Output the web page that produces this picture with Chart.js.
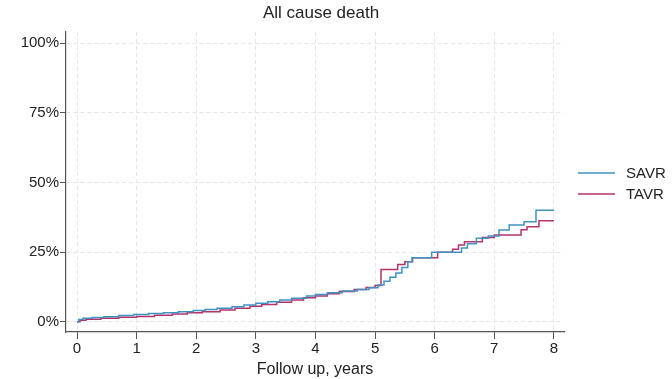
<!DOCTYPE html>
<html>
<head>
<meta charset="utf-8">
<script src="https://cdn.jsdelivr.net/npm/chart.js@4"></script>
<style>
  html, body { margin: 0; padding: 0; background: #fff; }
  #wrap { width: 672px; height: 379px; }
</style>
</head>
<body>
<div id="wrap"><canvas id="chart"></canvas></div>
<script>
// cumulative all cause death (%), step points
const savrTime = [0, 0.03, 0.1, 0.25, 0.45, 0.7, 0.95, 1.2, 1.45, 1.7, 1.95, 2.15, 2.35, 2.6, 2.8, 3.0, 3.2, 3.4, 3.6, 3.85, 4.0, 4.2, 4.45, 4.7, 4.9, 5.05, 5.15, 5.25, 5.35, 5.45, 5.55, 5.62, 5.95, 6.45, 6.55, 6.7, 6.9, 7.08, 7.25, 7.5, 7.7, 8.0];
const savrRisk = [0, 0.8, 1.2, 1.5, 1.8, 2.2, 2.6, 2.9, 3.2, 3.6, 4.0, 4.4, 4.8, 5.4, 6.0, 6.6, 7.2, 7.8, 8.4, 9.2, 9.8, 10.4, 11.0, 11.6, 12.2, 13.2, 14.5, 16.0, 17.5, 19.5, 21.5, 23.0, 24.9, 26.5, 28.0, 30.0, 30.8, 32.9, 34.7, 35.9, 40.0, 40.0];
const tavrTime = [0, 0.05, 0.15, 0.4, 0.7, 1.0, 1.3, 1.6, 1.85, 2.1, 2.4, 2.65, 2.9, 3.1, 3.35, 3.6, 3.8, 4.0, 4.2, 4.4, 4.65, 4.85, 5.0, 5.1, 5.38, 5.5, 5.63, 6.05, 6.3, 6.4, 6.5, 6.8, 7.0, 7.45, 7.55, 7.75, 8.0];
const tavrRisk = [0, 0.5, 0.9, 1.2, 1.6, 1.9, 2.3, 2.8, 3.2, 3.6, 4.2, 4.8, 5.5, 6.2, 7.0, 7.8, 8.6, 9.2, 10.0, 10.8, 11.6, 12.3, 13.0, 18.7, 20.5, 21.5, 23.0, 24.9, 26.0, 27.5, 28.7, 30.2, 31.1, 33.0, 34.1, 36.2, 36.2];
const xTicks = [0, 1, 2, 3, 4, 5, 6, 7, 8];
const yTicks = [0, 25, 50, 75, 100];

const FONT = 'Liberation Sans, Arial, sans-serif';
const SAVR_COLOR = '#3f93c2';
const TAVR_COLOR = '#b5336a';

function toPoints(xs, ys) {
    return xs.map((x, i) => ({ x: x, y: ys[i] }));
}

// title centred over the plot region + legend to the right
const decor = {
    id: 'decor',
    afterDraw(chart) {
        const ctx = chart.ctx;
        const area = chart.chartArea;
        ctx.save();
        ctx.fillStyle = '#222';
        ctx.font = '17px ' + FONT;
        ctx.textAlign = 'center';
        ctx.textBaseline = 'middle';
        ctx.fillText('All cause death', (area.left + area.right) / 2 + 6, 13);

        const items = [['SAVR', SAVR_COLOR, 173], ['TAVR', TAVR_COLOR, 194]];
        ctx.font = '15px ' + FONT;
        ctx.textAlign = 'left';
        items.forEach(([label, color, y]) => {
            ctx.strokeStyle = color;
            ctx.lineWidth = 1.5;
            ctx.beginPath();
            ctx.moveTo(578, y);
            ctx.lineTo(615, y);
            ctx.stroke();
            ctx.fillStyle = '#222';
            ctx.fillText(label, 626, y + 1);
        });
        ctx.restore();
    }
};

new Chart(document.getElementById('chart').getContext('2d'), {
    type: 'line',
    data: {
        datasets: [{
            label: 'SAVR',
            data: toPoints(savrTime, savrRisk),
            borderColor: SAVR_COLOR,
            borderWidth: 1.5,
            stepped: true,
            pointRadius: 0,
            fill: false
        }, {
            label: 'TAVR',
            data: toPoints(tavrTime, tavrRisk),
            borderColor: TAVR_COLOR,
            borderWidth: 1.5,
            stepped: true,
            pointRadius: 0,
            fill: false
        }]
    },
    options: {
        responsive: true,
        maintainAspectRatio: false,
        animation: false,
        layout: { padding: { top: 32, right: 108, left: 0, bottom: 0 } },
        plugins: {
            legend: { display: false },
            title: { display: false },
            tooltip: { enabled: false }
        },
        scales: {
            x: {
                type: 'linear',
                min: -0.185,
                max: 8.17,
                afterBuildTicks: s => { s.ticks = xTicks.map(v => ({ value: v })); },
                afterFit: s => { s.height = 47; },
                ticks: { color: '#222', font: { family: FONT, size: 15 }, padding: 1, maxRotation: 0 },
                grid: { color: '#e6e6e6', tickColor: '#555', tickLength: 7, tickBorderDash: [] },
                border: { color: '#555', width: 1.2, dash: [4, 3] },
                title: { display: true, text: 'Follow up, years', color: '#222', font: { family: FONT, size: 16 }, padding: { top: 0, bottom: 0 } }
            },
            y: {
                min: -3.7,
                max: 104,
                afterBuildTicks: s => { s.ticks = yTicks.map(v => ({ value: v })); },
                afterFit: s => { s.width = 66; },
                ticks: { color: '#222', font: { family: FONT, size: 15 }, padding: 1, callback: v => v + '%' },
                grid: { color: '#e6e6e6', tickColor: '#555', tickLength: 6, tickBorderDash: [] },
                border: { color: '#555', width: 1.2, dash: [4, 3] }
            }
        }
    },
    plugins: [decor]
});
</script>
</body>
</html>
